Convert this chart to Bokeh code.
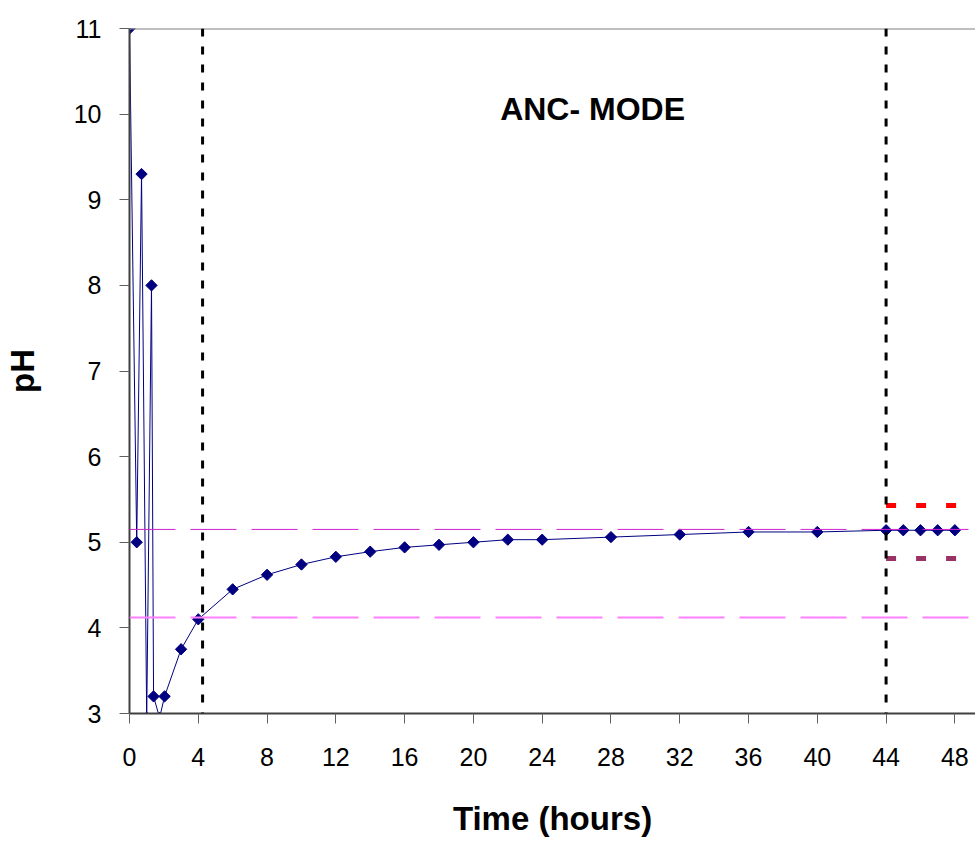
import math
from bokeh.plotting import figure
from bokeh.models import Range1d, Span, Label
from bokeh.embed import file_html
from bokeh.resources import INLINE

# ---- data ----
time_h = [0, 0.42, 0.7, 1.0, 1.28, 1.4, 1.75, 2.04, 3, 4, 6, 8, 10, 12, 14, 16, 18, 20,
          22, 24, 28, 32, 36, 40, 44, 45, 46, 47, 48]
ph = [11.0, 5.0, 9.3, 2.95, 8.0, 3.2, 2.95, 3.2, 3.75, 4.1, 4.45, 4.62, 4.74, 4.83, 4.89,
      4.94, 4.97, 5.0, 5.03, 5.03, 5.06, 5.09, 5.12, 5.12, 5.14, 5.14, 5.14, 5.14, 5.14]

upper_ref = 5.15
lower_ref = 4.12
red_level = 5.43
maroon_level = 4.81
short_start = 44
phase_marks = [4.25, 44]
x_ticks = list(range(0, 49, 4))
y_ticks = list(range(3, 12))
x_end = 49.2

FONT = "Liberation Sans"

p = figure(width=975, height=841, output_backend="svg", toolbar_location=None,
           x_range=Range1d(0, x_end), y_range=Range1d(3, 11),
           min_border_left=129, min_border_right=0, min_border_top=28, min_border_bottom=128)
p.background_fill_color = "white"
p.border_fill_color = "white"
p.outline_line_color = None
p.grid.visible = False

for ax in (p.xaxis[0], p.yaxis[0]):
    ax.axis_line_color = "#404040"
    ax.axis_line_width = 2
    ax.major_tick_in = 0
    ax.major_tick_out = 10
    ax.major_tick_line_color = "#606060"
    ax.minor_tick_line_color = None
    ax.major_label_text_font = FONT
    ax.major_label_text_font_size = "25px"
    ax.major_label_text_color = "black"
    ax.axis_label_text_font = FONT
    ax.axis_label_text_font_size = "33px"
    ax.axis_label_text_font_style = "bold"
    ax.axis_label_text_color = "black"

p.xaxis.ticker = x_ticks
p.yaxis.ticker = y_ticks
p.xaxis.axis_label = "Time (hours)"
p.yaxis.axis_label = "pH"
p.xaxis.major_label_standoff = 24
p.xaxis.axis_label_standoff = 31
p.yaxis.major_label_standoff = 18
p.yaxis.axis_label_standoff = 30

# top border of plot area
p.add_layout(Span(location=11, dimension="width", line_color="#808080", line_width=2))

# reference lines
p.add_layout(Span(location=upper_ref, dimension="width", line_color="#D020D0",
                  line_width=1, line_dash="46 15"))
p.add_layout(Span(location=lower_ref, dimension="width", line_color="#FF80FF",
                  line_width=2, line_dash="46 15"))

p.line([short_start, x_end], [red_level, red_level], line_color="#FF0000",
       line_width=5, line_dash="10 20")
p.line([short_start, x_end], [maroon_level, maroon_level], line_color="#993366",
       line_width=5, line_dash="10 20")

for xm in phase_marks:
    p.add_layout(Span(location=xm, dimension="height", line_color="black",
                      line_width=3, line_dash="8 10"))

# data
p.line(time_h, ph, line_color="#000080", line_width=1)
p.scatter(time_h, ph, marker="square", size=8, angle=math.pi / 4,
          fill_color="#000080", line_color="#000080")

p.add_layout(Label(x=26.93, y=10.06, text="ANC- MODE", text_align="center",
                   text_baseline="middle", text_font=FONT, text_font_size="32px",
                   text_font_style="bold", text_color="black"))

open("out.html", "w").write(file_html(p, INLINE))
